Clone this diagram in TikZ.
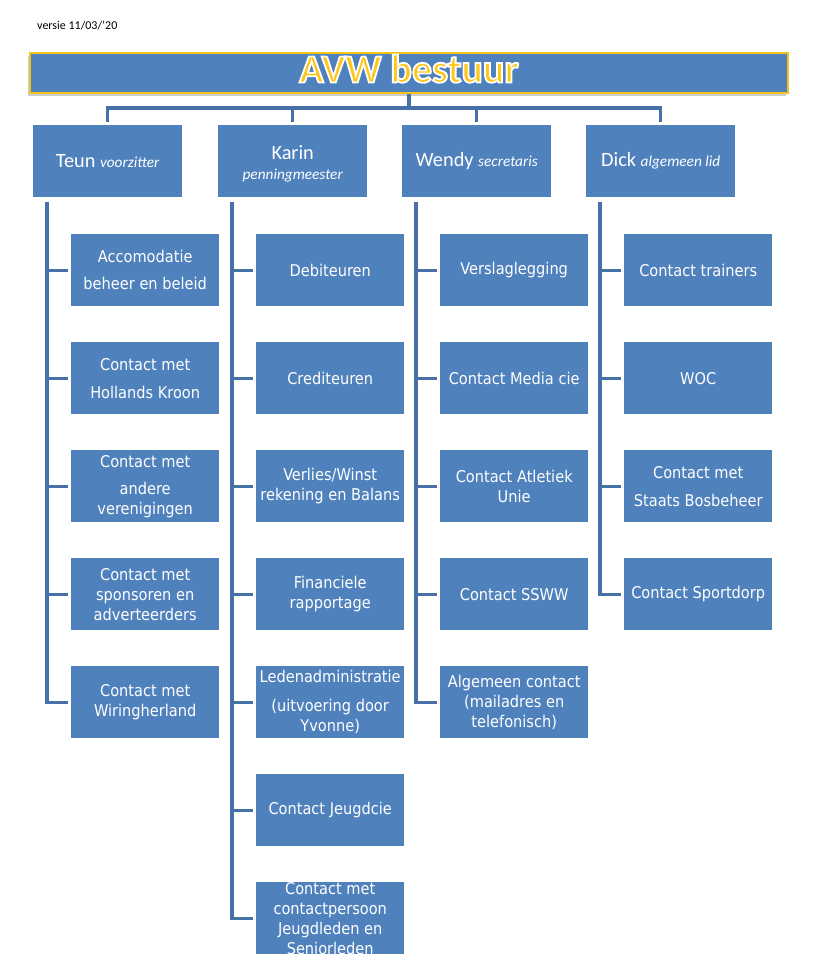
\documentclass[tikz,border=0pt]{standalone}
\usepackage{fontspec}
\setmainfont{Carlito}
\newfontfamily\childfont{DejaVu Sans Condensed}
\newcommand\myrolefont{\itshape\fontsize{15.3}{19}\selectfont}
\newcommand\outlined[1]{\special{pdf:literal direct 2 Tr 1.8 w 1 1 1 RG}#1\special{pdf:literal direct 0 Tr}}
\definecolor{boxblue}{HTML}{4F81BD}
\definecolor{lineblue}{HTML}{4770A6}
\definecolor{titleyellow}{HTML}{F2C318}
\definecolor{textyellow}{HTML}{FFC61A}
\begin{document}
\begin{tikzpicture}[x=1pt,y=-1pt,
  conn/.style={draw=lineblue, line width=3.3pt},
  headbox/.style={fill=boxblue, minimum width=149pt, minimum height=72pt, inner sep=0pt,
    anchor=north west, text=white, align=center, font=\fontsize{20.3}{19.5}\selectfont},
  childbox/.style={fill=boxblue, minimum width=148pt, minimum height=72pt, inner sep=0pt,
    anchor=north west, text=white, align=center, font=\childfont\fontsize{16.2}{20}\selectfont},
  titlebox/.style={fill=boxblue, draw=titleyellow, line width=2pt, minimum width=758pt,
    minimum height=40pt, inner sep=0pt},
  titletext/.style={anchor=base, inner sep=0pt, font=\bfseries\fontsize{40}{42}\selectfont}
]
\useasboundingbox (0,0) rectangle (836,976);

% version
\node[anchor=base west, inner sep=0pt, font=\fontsize{12}{14}\selectfont] (ver) at (37,30) {versie 11/03/'20};

% title
\fill[black, opacity=0.2] (28,56) rectangle (786,96);
\node[titlebox] (title) at (409,73) {};
\node[titletext, text=textyellow] (ttext) at (409,82.5) {\outlined{AVW bestuur}};

% heads
\node[headbox] (h1) at (33,125) {Teun {\myrolefont voorzitter}};
\node[headbox] (h2) at (218,125) {\rule{0pt}{18.5pt}Karin\\[0.5pt]{\myrolefont penningmeester}};
\node[headbox] (h3) at (402,125) {Wendy {\myrolefont secretaris}};
\node[headbox] (h4) at (586,125) {Dick {\myrolefont algemeen lid}};

% column 1
\node[childbox] (c11) at (71,234) {Accomodatie\\[7pt]beheer en beleid};
\node[childbox] (c12) at (71,342) {Contact met\\[8pt]Hollands Kroon};
\node[childbox] (c13) at (71,450) {Contact met\\[7pt]andere\\verenigingen};
\node[childbox] (c14) at (71,558) {Contact met\\sponsoren en\\adverteerders};
\node[childbox] (c15) at (71,666) {Contact met\\Wiringherland};

% column 2
\node[childbox] (c21) at (256,234) {Debiteuren};
\node[childbox] (c22) at (256,342) {Crediteuren};
\node[childbox] (c23) at (256,450) {Verlies/Winst\\rekening en Balans};
\node[childbox] (c24) at (256,558) {Financiele\\rapportage};
\node[childbox] (c25) at (256,666) {Ledenadministratie\\[9pt](uitvoering door\\Yvonne)};
\node[childbox] (c26) at (256,774) {Contact Jeugdcie};
\node[childbox] (c27) at (256,882) {Contact met\\contactpersoon\\Jeugdleden en\\Seniorleden};

% column 3
\node[childbox] (c31) at (440,234) {Verslaglegging};
\node[childbox] (c32) at (440,342) {Contact Media cie};
\node[childbox] (c33) at (440,450) {Contact Atletiek\\Unie};
\node[childbox] (c34) at (440,558) {Contact SSWW};
\node[childbox] (c35) at (440,666) {Algemeen contact\\(mailadres en\\telefonisch)};

% column 4
\node[childbox] (c41) at (624,234) {Contact trainers};
\node[childbox] (c42) at (624,342) {WOC};
\node[childbox] (c43) at (624,450) {Contact met\\[8pt]Staats Bosbeheer};
\node[childbox] (c44) at (624,558) {Contact Sportdorp};

% top connectors
\coordinate (bus) at (409,108);
\draw[conn] (title.south) -- (bus);
\draw[conn] ([yshift=3pt]h1.north) |- (bus) -| ([yshift=3pt]h4.north);
\draw[conn] (bus -| h2.north) -- ([yshift=3pt]h2.north);
\draw[conn] (bus -| h3.north) -- ([yshift=3pt]h3.north);

% spines
\coordinate (s1) at ([xshift=14pt,yshift=-5pt]h1.south west);
\coordinate (s2) at ([xshift=14pt,yshift=-5pt]h2.south west);
\coordinate (s3) at ([xshift=14pt,yshift=-5pt]h3.south west);
\coordinate (s4) at ([xshift=14pt,yshift=-5pt]h4.south west);
\draw[conn] (s1) |- ([xshift=-3pt]c15.west);
\draw[conn] (s2) |- ([xshift=-3pt]c27.west);
\draw[conn] (s3) |- ([xshift=-3pt]c35.west);
\draw[conn] (s4) |- ([xshift=-3pt]c44.west);
\foreach \n in {c11,c12,c13,c14}
  \draw[conn] (\n.west -| s1) -- ([xshift=-3pt]\n.west);
\foreach \n in {c21,c22,c23,c24,c25,c26}
  \draw[conn] (\n.west -| s2) -- ([xshift=-3pt]\n.west);
\foreach \n in {c31,c32,c33,c34}
  \draw[conn] (\n.west -| s3) -- ([xshift=-3pt]\n.west);
\foreach \n in {c41,c42,c43}
  \draw[conn] (\n.west -| s4) -- ([xshift=-3pt]\n.west);
\end{tikzpicture}
\end{document}
